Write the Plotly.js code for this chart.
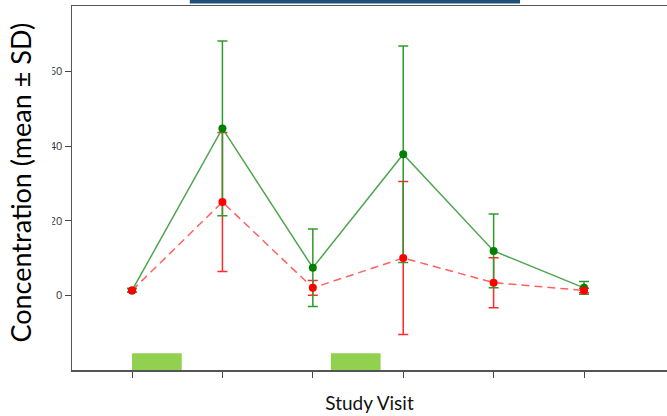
<!DOCTYPE html>
<html>
<head>
<meta charset="utf-8">
<script src="https://cdn.plot.ly/plotly-3.0.1.min.js"></script>
<style>
  html, body { margin: 0; padding: 0; background: #fff; }
  #chart { width: 667px; height: 416px; }
</style>
</head>
<body>
<div id="chart"></div>
<script>
// Study visits on the x axis
const visits = [1, 2, 3, 4, 5, 6];

// Solid green series: mean and standard deviation per visit
const greenMean = [1.3, 44.7, 7.4, 37.8, 11.9, 2.0];
const greenSD   = [0.5, 23.4, 10.4, 29.0, 9.9, 1.7];

// Dashed red series: mean and standard deviation per visit
const redMean = [1.3, 25.0, 2.0, 10.0, 3.4, 1.3];
const redSD   = [0.5, 18.6, 2.0, 20.5, 6.7, 0.6];

// Dosing windows shown as bars along the x axis (visit units)
const doseStart = [1.0, 3.2];
const doseEnd   = [1.55, 3.75];
const doseBarTop = -15.5;

// Y axis ticks
const yTicks = [0, 20, 40, 60];

const yMin = -20, yMax = 77.5;

// Red series line and error bars sit underneath the green series
const redLine = {
  x: visits, y: redMean,
  type: 'scatter', mode: 'lines',
  name: 'Red series',
  line: { color: 'rgba(255,80,80,0.9)', width: 1.5, dash: '8px,5px' },
  error_y: { type: 'data', array: redSD, visible: true,
             color: '#ff2a2a', thickness: 1.5, width: 5 },
  showlegend: false
};

const greenTrace = {
  x: visits, y: greenMean,
  type: 'scatter', mode: 'lines+markers',
  name: 'Green series',
  line: { color: 'rgba(60,155,60,0.9)', width: 1.5 },
  marker: { color: '#008000', size: 8 },
  error_y: { type: 'data', array: greenSD, visible: true,
             color: '#2f9a2f', thickness: 1.5, width: 5 },
  showlegend: false
};

// Red markers drawn last so they stay on top
const redMarkers = {
  x: visits, y: redMean,
  type: 'scatter', mode: 'markers',
  name: 'Red series',
  marker: { color: '#ff0000', size: 8 },
  showlegend: false
};

const shapes = doseStart.map((s, i) => ({
  type: 'rect', xref: 'x', yref: 'y',
  x0: s, x1: doseEnd[i], y0: yMin, y1: doseBarTop,
  fillcolor: '#92d050', line: { width: 0 }, layer: 'below'
}));

// dark band along the top edge
shapes.push({
  type: 'rect', xref: 'paper', yref: 'paper',
  x0: 0.198, x1: 0.753, y0: 1.0069, y1: 1.0175,
  fillcolor: '#1f4e79', line: { width: 0 }, layer: 'above'
});

// keep the left strip clear behind the vertical title
shapes.push({
  type: 'rect', xref: 'paper', yref: 'paper',
  x0: -0.2, x1: -0.0333, y0: -0.1, y1: 1.1,
  fillcolor: '#ffffff', line: { width: 0 }, layer: 'above'
});

const layout = {
  width: 667, height: 416,
  margin: { l: 72, r: 0, t: 6, b: 46, pad: 0 },
  paper_bgcolor: '#ffffff', plot_bgcolor: '#ffffff',
  font: { family: 'Open Sans, sans-serif', color: '#333' },
  xaxis: {
    range: [0.336, 6.918],
    tickvals: visits, showticklabels: false,
    ticks: 'outside', ticklen: 6, tickwidth: 1, tickcolor: '#444',
    showline: true, linecolor: '#555', linewidth: 1.5, mirror: true,
    showgrid: false, zeroline: false,
    title: { text: 'Study Visit', font: { size: 19, color: '#111', family: 'Lato, sans-serif' }, standoff: 20 }
  },
  yaxis: {
    range: [yMin, yMax],
    tickvals: yTicks,
    ticks: 'outside', ticklen: 6, tickwidth: 1, tickcolor: '#444',
    tickfont: { size: 11, color: '#333' },
    showline: true, linecolor: '#555', linewidth: 1.5,
    showgrid: false, zeroline: false
  },
  shapes: shapes,
  annotations: [{
    text: 'Concentration (mean ± SD)',
    textangle: -90,
    xref: 'paper', yref: 'paper',
    x: -0.0857, y: 0.515,
    xanchor: 'center', yanchor: 'middle',
    showarrow: false,
    font: { size: 27, color: '#000', family: 'Lato, sans-serif' }
  }]
};

Plotly.newPlot('chart', [redLine, greenTrace, redMarkers], layout, { displayModeBar: false, staticPlot: true });
</script>
</body>
</html>
